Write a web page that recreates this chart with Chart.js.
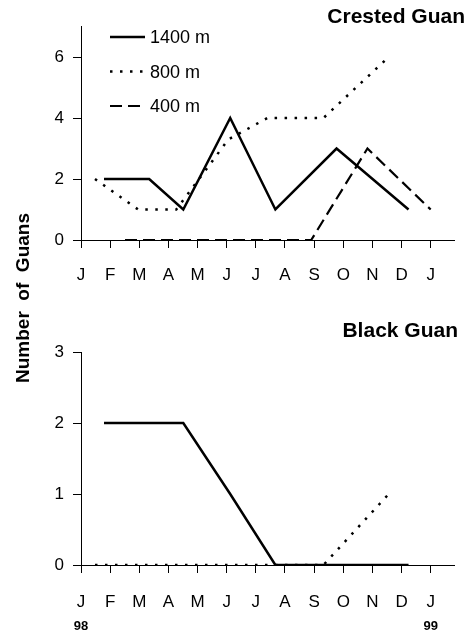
<!DOCTYPE html>
<html>
<head>
<meta charset="utf-8">
<script src="https://cdn.jsdelivr.net/npm/chart.js@4.4.0/dist/chart.umd.min.js"></script>
<style>
  html, body { margin: 0; padding: 0; background: #fff; }
  #wrap { position: relative; width: 471px; height: 632px; overflow: hidden; }
  canvas { position: absolute; left: 0; }
  #crested { top: 0; }
  #black { top: 300px; }
  #ytitle {
    position: absolute; left: -76px; top: 285.5px; width: 200px; height: 24px;
    line-height: 24px; text-align: center; white-space: pre;
    font: bold 19px "Liberation Sans", Arial, sans-serif; color: #000;
    transform: rotate(-90deg);
  }
</style>
</head>
<body>
<div id="wrap">
  <canvas id="crested" width="471" height="300"></canvas>
  <canvas id="black" width="471" height="332"></canvas>
  <div id="ytitle">Number  of  Guans</div>
</div>
<script>
const monthLabels = ['J', 'F', 'M', 'A', 'M', 'J', 'J', 'A', 'S', 'O', 'N', 'D', 'J'];
const yearTicks = [0, 12];
const yearLabels = ['98', '99'];

// survey dates, in months from 1 Jan 1998
const months1400 = [0.79, 2.34, 3.51, 5.12, 6.67, 8.77, 11.24];
const months800 = [0.48, 1.96, 3.27, 5.06, 6.40, 8.32, 10.56];
const months400 = [1.51, 7.90, 9.83, 12.0];

const crested1400 = [2, 2, 1, 4, 1, 3, 1];
const crested800 = [2, 1, 1, 3.3, 4, 4, 6];
const crested400 = [0, 0, 3, 1];

const black1400 = [2, 2, 2, 1, 0, 0, 0];
const black800 = [0, 0, 0, 0, 0, 0, 1];

const FONT = '"Liberation Sans", Arial, sans-serif';

const zip = (xs, ys) => xs.map((x, i) => ({ x: x, y: ys[i] }));

const solid = { borderColor: '#000', borderWidth: 2.5, borderDash: [] };
const dotted = { borderColor: '#000', borderWidth: 2.5, borderDash: [2.5, 7.5] };
const dashed = { borderColor: '#000', borderWidth: 2.2, borderDash: [12, 6] };

// titles, legend and year marks drawn straight on the chart canvas
const panelText = {
  id: 'panelText',
  afterDraw(chart, args, opts) {
    const ctx = chart.ctx;
    ctx.save();
    ctx.fillStyle = '#000';
    ctx.textBaseline = 'alphabetic';

    ctx.font = 'bold 21px ' + FONT;
    ctx.textAlign = 'right';
    ctx.fillText(opts.title, opts.titleX, opts.titleY);

    if (opts.legend) {
      ctx.font = '18px ' + FONT;
      ctx.textAlign = 'left';
      chart.data.datasets.forEach((ds, i) => {
        const y = opts.legendY + i * opts.legendGap;
        ctx.strokeStyle = ds.borderColor;
        ctx.lineWidth = ds.borderWidth;
        ctx.setLineDash(ds.borderDash);
        ctx.beginPath();
        ctx.moveTo(opts.legendX, y);
        ctx.lineTo(opts.legendX + 35, y);
        ctx.stroke();
        ctx.setLineDash([]);
        ctx.fillText(ds.label, opts.legendX + 40, y + 6);
      });
    }

    if (opts.years) {
      const xs = chart.scales.x;
      ctx.font = 'bold 13px ' + FONT;
      ctx.textAlign = 'center';
      yearTicks.forEach((m, i) => {
        ctx.fillText(yearLabels[i], xs.getPixelForValue(m), opts.yearY);
      });
    }
    ctx.restore();
  }
};

const makeOptions = (topPad, xHeight, labelPad, yMax, yStep, textOpts) => ({
  responsive: false,
  animation: false,
  layout: { padding: { top: topPad, right: 17, bottom: 0, left: 0 } },
  elements: { point: { radius: 0 }, line: { tension: 0, fill: false } },
  plugins: {
    legend: { display: false },
    title: { display: false },
    tooltip: { enabled: false },
    panelText: textOpts
  },
  scales: {
    x: {
      type: 'linear',
      min: 0,
      max: 12.8,
      grid: { drawOnChartArea: false, drawTicks: true, tickLength: 8, tickColor: '#000', color: '#000' },
      border: { display: true, color: '#000', width: 1 },
      ticks: {
        stepSize: 1,
        includeBounds: false,
        autoSkip: false,
        maxRotation: 0,
        padding: labelPad,
        color: '#000',
        font: { family: FONT, size: 17 },
        callback: v => monthLabels[Math.round(v)] || ''
      },
      afterFit: s => { s.height = xHeight; }
    },
    y: {
      min: 0,
      max: yMax,
      grid: { drawOnChartArea: false, drawTicks: true, tickLength: 8, tickColor: '#000', color: '#000' },
      border: { display: true, color: '#000', width: 1 },
      ticks: {
        stepSize: yStep,
        includeBounds: false,
        padding: 9,
        color: '#000',
        font: { family: FONT, size: 17 }
      },
      afterFit: s => { s.width = 81; }
    }
  }
});

new Chart(document.getElementById('crested'), {
  type: 'line',
  data: {
    datasets: [
      Object.assign({ label: '1400 m', data: zip(months1400, crested1400) }, solid),
      Object.assign({ label: '800 m', data: zip(months800, crested800) }, dotted),
      Object.assign({ label: '400 m', data: zip(months400, crested400) }, dashed)
    ]
  },
  options: makeOptions(26.5, 60, 17, 7, 2, {
    title: 'Crested Guan', titleX: 465, titleY: 23,
    legend: true, legendX: 110, legendY: 37, legendGap: 34.5
  }),
  plugins: [panelText]
});

new Chart(document.getElementById('black'), {
  type: 'line',
  data: {
    datasets: [
      Object.assign({ label: '1400 m', data: zip(months1400, black1400) }, solid),
      Object.assign({ label: '800 m', data: zip(months800, black800) }, dotted)
    ]
  },
  options: makeOptions(52, 67, 19, 3, 1, {
    title: 'Black Guan', titleX: 458, titleY: 37,
    legend: false, years: true, yearY: 330
  }),
  plugins: [panelText]
});
</script>
</body>
</html>
